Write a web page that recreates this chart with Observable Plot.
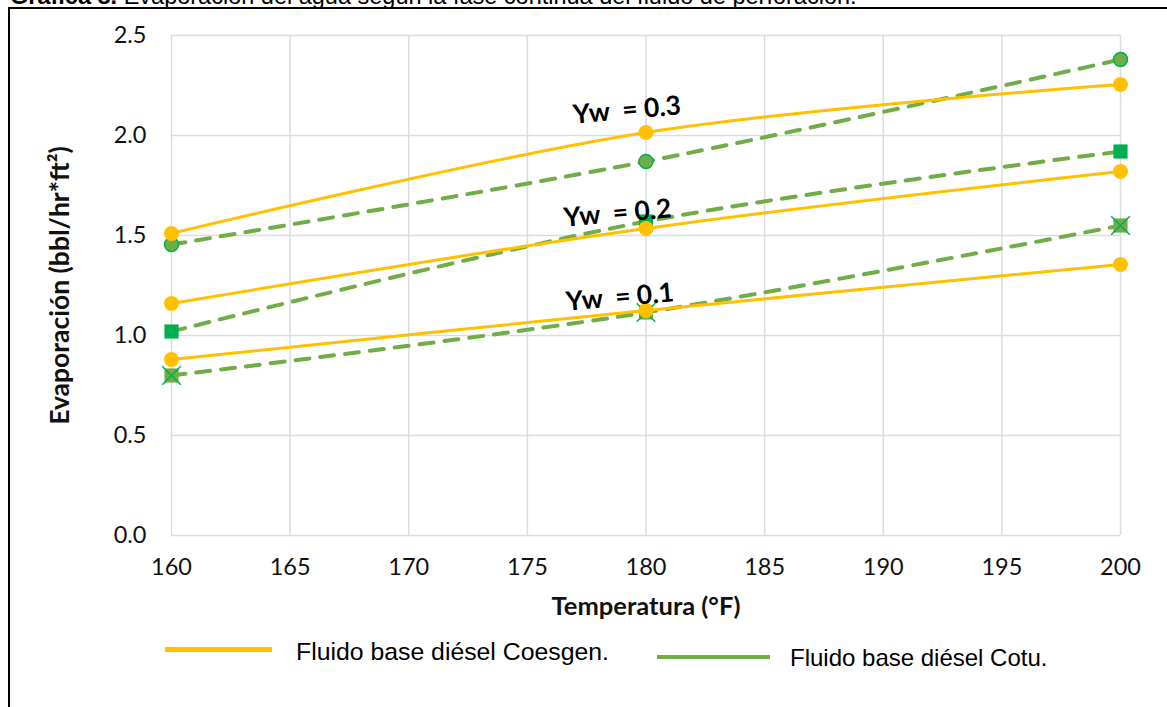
<!DOCTYPE html>
<html>
<head>
<meta charset="utf-8">
<script src="https://cdn.jsdelivr.net/npm/d3@7"></script>
<script src="https://cdn.jsdelivr.net/npm/@observablehq/plot@0.6"></script>
<style>
  body { margin: 0; background: #fff; }
  #wrap { position: relative; width: 1167px; height: 707px; overflow: hidden; background: #fff;
          font-family: "Liberation Sans", Arial, sans-serif; color: #000; }
  #title { position: absolute; left: 10px; top: -14px; font-size: 23.5px; line-height: 20px; white-space: nowrap; }
  #frame { position: absolute; left: 8px; top: 7px; width: 1300px; height: 900px;
           border-left: 2px solid #000; border-top: 2px solid #000; pointer-events: none; z-index: 2; }
  #chart { position: absolute; left: 0; top: 0; }
  .sw { position: absolute; }
  .kt { position: absolute; font-size: 24px; line-height: 28px; white-space: nowrap; }
</style>
</head>
<body>
<div id="wrap">
  <div id="title"><b>Gráfica 8.</b> Evaporación del agua según la fase continua del fluido de perforación.</div>
  <div id="frame"></div>
  <div id="chart"></div>
  <div class="sw" style="left:165px;top:647px;width:107px;height:5px;background:#FFC000"></div>
  <div class="kt" style="left:296px;top:638px;font-size:24.8px">Fluido base diésel Coesgen.</div>
  <div class="sw" style="left:657px;top:655px;width:113px;height:4px;background:#70AD47"></div>
  <div class="kt" style="left:790px;top:644px">Fluido base diésel Cotu.</div>
</div>
<script>
// Temperatures (°F) and water fractions
const temps = [160, 180, 200];
const waterFractions = [0.1, 0.2, 0.3];

// Evaporation (bbl/hr*ft²), diesel-based fluid Coesgen
const coesgen01 = [0.88, 1.125, 1.355];
const coesgen02 = [1.16, 1.535, 1.82];
const coesgen03 = [1.51, 2.015, 2.255];

// Evaporation (bbl/hr*ft²), diesel-based fluid Cotu
const cotu01 = [0.80, 1.115, 1.55];
const cotu02 = [1.02, 1.57, 1.92];
const cotu03 = [1.455, 1.87, 2.38];

// Axis ticks
const xTicks = [160, 165, 170, 175, 180, 185, 190, 195, 200];
const yTicks = [0, 0.5, 1.0, 1.5, 2.0, 2.5];

// Curve labels, anchored in data units
const curveLabels = ["Yw  = 0.1", "Yw  = 0.2", "Yw  = 0.3"];
const labelX = [178.9, 178.8, 179.2];
const labelY = [1.19, 1.61, 2.125];

const toRows = (fluid, series) =>
  series.flatMap((vals, i) => temps.map((t, j) => ({fluid, yw: waterFractions[i], t, v: vals[j]})));

const coesgen = toRows("Coesgen", [coesgen01, coesgen02, coesgen03]);
const cotu = toRows("Cotu", [cotu01, cotu02, cotu03]);
const labels = curveLabels.map((text, i) => ({text, x: labelX[i], y: labelY[i]}));

const calibriLike = "Lato, 'Open Sans', sans-serif";
const yellow = "#FFC000", green = "#70AD47", brightGreen = "#00B050", grid = "#d9dde3";

const chart = Plot.plot({
  width: 1167,
  height: 620,
  marginLeft: 171,
  marginRight: 47,
  marginTop: 35,
  marginBottom: 85,
  style: {fontFamily: calibriLike, background: "transparent", overflow: "visible"},
  x: {domain: [160, 200], ticks: xTicks},
  y: {domain: [0, 2.5], ticks: yTicks},
  marks: [
    Plot.gridX(xTicks, {stroke: grid, strokeOpacity: 1, strokeWidth: 1.5}),
    Plot.gridY(yTicks, {stroke: grid, strokeOpacity: 1, strokeWidth: 1.5}),
    Plot.axisX(xTicks, {tickSize: 0, tickPadding: 23, fontSize: 23.5, fill: "#111", label: null}),
    Plot.axisY(yTicks, {tickSize: 0, tickPadding: 25, fontSize: 23.5, fill: "#111", label: null,
                        tickFormat: d => d.toFixed(1)}),
    Plot.text(["Temperatura (°F)"], {frameAnchor: "bottom", textAnchor: "middle", dy: 79,
                                    fontSize: 25.5, fontWeight: "bold", fill: "#111"}),
    Plot.text(["Evaporación (bbl/hr*ft²)"], {frameAnchor: "left", textAnchor: "middle", dx: -111, rotate: -90,
                                            fontSize: 26.5, fontWeight: "bold", fill: "#111"}),

    // Cotu series: dashed green lines with distinct markers
    Plot.line(cotu, {x: "t", y: "v", z: "yw", curve: "cardinal", stroke: green, strokeWidth: 4,
                     strokeDasharray: "14,11"}),
    Plot.dot(cotu.filter(d => d.yw === 0.3), {x: "t", y: "v", r: 7, fill: green, stroke: brightGreen, strokeWidth: 1.5}),
    Plot.dot(cotu.filter(d => d.yw === 0.2), {x: "t", y: "v", symbol: "square", r: 8, fill: brightGreen}),
    Plot.dot(cotu.filter(d => d.yw === 0.1), {x: "t", y: "v", symbol: "square", r: 8, fill: green}),
    Plot.dot(cotu.filter(d => d.yw === 0.1), {x: "t", y: "v", symbol: "times", r: 8.5, stroke: brightGreen, strokeWidth: 1.5}),

    // Coesgen series: smooth yellow lines with circle markers
    Plot.line(coesgen, {x: "t", y: "v", z: "yw", curve: "cardinal", stroke: yellow, strokeWidth: 3}),
    Plot.dot(coesgen, {x: "t", y: "v", r: 7.5, fill: yellow}),

    // Water fraction labels
    Plot.text(labels, {x: "x", y: "y", text: "text", rotate: -5, fontSize: 26.5, fontWeight: "bold", fill: "#000"})
  ]
});
document.getElementById("chart").appendChild(chart);
</script>
</body>
</html>
